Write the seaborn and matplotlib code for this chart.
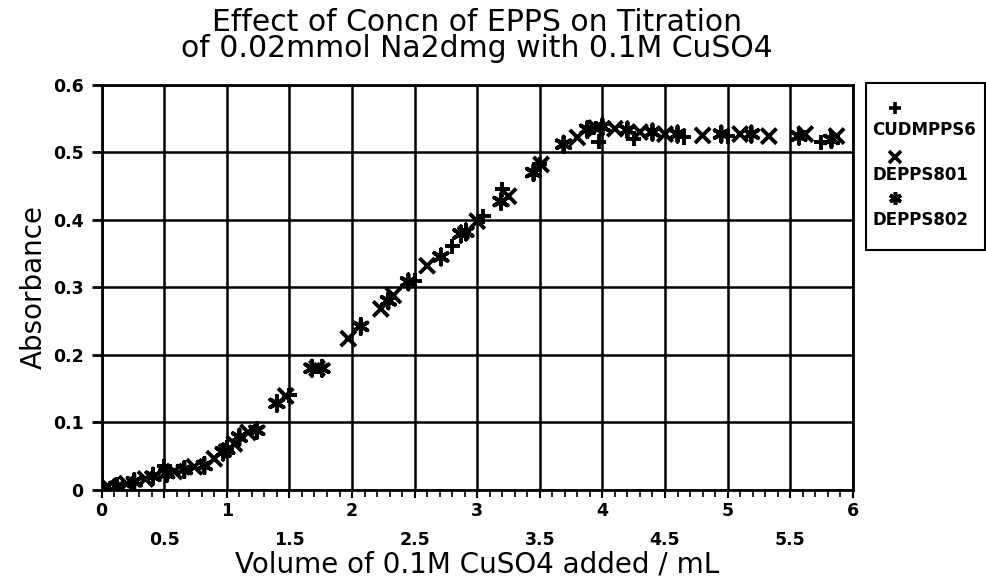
import numpy as np
import pandas as pd
import matplotlib
matplotlib.use("Agg")
import matplotlib.pyplot as plt
from matplotlib.lines import Line2D
from matplotlib.patches import Rectangle
import seaborn as sns

# 데이터
cud_x = [0.0, 0.5, 1.0, 1.5, 2.5, 2.8, 3.05, 3.2, 3.5, 3.97, 4.25, 4.65, 5.0, 5.75]
cud_y = [0.003, 0.035, 0.06, 0.14, 0.31, 0.361, 0.405, 0.445, 0.482, 0.516, 0.52, 0.522, 0.524, 0.515]

d801_x = [0.05, 0.2, 0.35, 0.58, 0.74, 0.9, 1.06, 1.17, 1.47, 1.72, 1.97, 2.23, 2.33, 2.6,
          3.0, 3.25, 3.51, 3.8, 3.95, 4.1, 4.3, 4.5, 4.8, 5.1, 5.33, 5.62, 5.87]
d801_y = [0.005, 0.009, 0.016, 0.027, 0.034, 0.046, 0.068, 0.085, 0.139, 0.18, 0.224, 0.268, 0.288, 0.332,
          0.398, 0.435, 0.482, 0.522, 0.536, 0.535, 0.53, 0.527, 0.525, 0.527, 0.524, 0.527, 0.524]

d802_x = [0.0, 0.12, 0.26, 0.41, 0.52, 0.66, 0.82, 0.97, 1.0, 1.1, 1.24, 1.4, 1.68, 1.76, 2.07, 2.29,
          2.45, 2.71, 2.87, 2.91, 3.19, 3.45, 3.69, 3.88, 4.0, 4.2, 4.4, 4.6, 4.95, 5.19, 5.57, 5.83]
d802_y = [0.002, 0.005, 0.012, 0.02, 0.024, 0.03, 0.036, 0.056, 0.06, 0.078, 0.088, 0.128, 0.18, 0.18, 0.242, 0.28,
          0.308, 0.345, 0.379, 0.382, 0.427, 0.47, 0.512, 0.534, 0.538, 0.533, 0.53, 0.527, 0.527, 0.527, 0.524, 0.519]

series_names = ["CUDMPPS6", "DEPPS801", "DEPPS802"]
x_ticks = [0, 0.5, 1, 1.5, 2, 2.5, 3, 3.5, 4, 4.5, 5, 5.5, 6]
x_ticklabels = ["0", "\n0.5", "1", "\n1.5", "2", "\n2.5", "3", "\n3.5", "4", "\n4.5", "5", "\n5.5", "6"]
y_ticks = [0, 0.1, 0.2, 0.3, 0.4, 0.5, 0.6]
y_ticklabels = ["0", "0.1", "0.2", "0.3", "0.4", "0.5", "0.6"]

df = pd.concat([
    pd.DataFrame({"x": cud_x, "y": cud_y, "series": series_names[0]}),
    pd.DataFrame({"x": d801_x, "y": d801_y, "series": series_names[1]}),
    pd.DataFrame({"x": d802_x, "y": d802_y, "series": series_names[2]}),
])

sns.set_theme(style="white")
plt.rcParams["font.family"] = ["DejaVu Sans"]
plt.rcParams["text.color"] = "black"
plt.rcParams["axes.labelcolor"] = "black"
plt.rcParams["xtick.color"] = "black"
plt.rcParams["ytick.color"] = "black"

markers = {"CUDMPPS6": "+", "DEPPS801": "x", "DEPPS802": (6, 2, 0)}

fig = plt.figure(figsize=(9.87, 5.81), dpi=100)
ax = fig.add_axes([0.103, 0.157, 0.761, 0.697])

sns.scatterplot(data=df, x="x", y="y", style="series", markers=markers,
                color="black", s=120, linewidth=2.8, legend=False, ax=ax, zorder=3)

ax.set_xlim(0, 6)
ax.set_ylim(0, 0.6)
ax.set_xticks(x_ticks)
ax.set_xticklabels(x_ticklabels, fontsize=12.5, fontweight="bold")
for lbl in ax.get_xticklabels():
    lbl.set_linespacing(1.8)
ax.set_xticks(np.arange(0, 6.01, 0.1), minor=True)
ax.set_yticks(y_ticks)
ax.set_yticklabels(y_ticklabels, fontsize=12.5, fontweight="bold")
ax.tick_params(axis="x", which="major", direction="out", length=6, width=1.5, pad=3, bottom=True)
ax.tick_params(axis="x", which="minor", direction="out", length=5, width=1.2, bottom=True)
ax.tick_params(axis="y", which="major", direction="out", length=7, width=2, left=True, pad=6)
ax.grid(True, which="major", color="black", linewidth=1.8)
for sp in ax.spines.values():
    sp.set_color("black")
    sp.set_linewidth(2)

ax.set_xlabel("Volume of 0.1M CuSO4 added / mL", fontsize=20, labelpad=1)
ax.set_ylabel("Absorbance", fontsize=20, labelpad=4)
ax.set_title("Effect of Concn of EPPS on Titration\nof 0.02mmol Na2dmg with 0.1M CuSO4",
             fontsize=21.5, linespacing=0.85, pad=20)

# 범례 (마커 위, 이름 아래)
fig.add_artist(Rectangle((0.877, 0.57), 0.121, 0.287, transform=fig.transFigure,
                         fill=False, edgecolor="black", linewidth=1.5))
leg_marker_y = [0.814, 0.730, 0.659]
leg_text_y = [0.776, 0.699, 0.621]
for name, my, ty in zip(series_names, leg_marker_y, leg_text_y):
    fig.add_artist(Line2D([0.907], [my], marker=markers[name], color="black",
                          markersize=9, markeredgewidth=2.6, linestyle="none",
                          transform=fig.transFigure))
    fig.text(0.884, ty, name, fontsize=12, fontweight="bold", va="center", ha="left")

fig.savefig("out.png", dpi=100)
